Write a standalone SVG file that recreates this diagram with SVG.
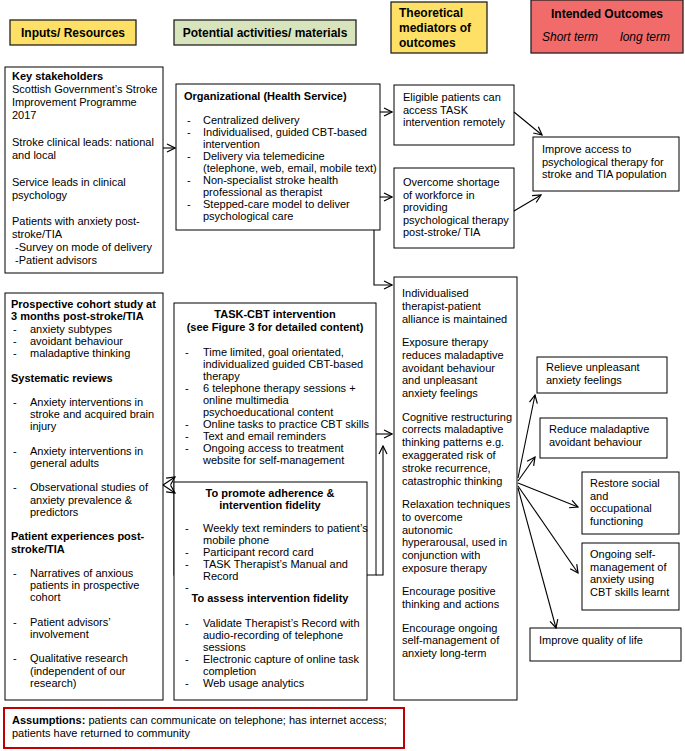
<svg xmlns="http://www.w3.org/2000/svg" width="685" height="751" viewBox="0 0 685 751">
<defs>
<marker id="ah" markerWidth="10" markerHeight="10" refX="9" refY="5" orient="auto" markerUnits="userSpaceOnUse"><path d="M1,1 L9,5 L1,9" fill="none" stroke="#000" stroke-width="1.2"/></marker>
</defs>
<style>
text{font-family:"Liberation Sans",Arial,sans-serif;font-size:11px;fill:#000}
.b{font-weight:bold}
.h{font-weight:bold;font-size:12px}
.i{font-style:italic;font-size:12px}
.c{text-anchor:middle}
.box{fill:#fff;stroke:#000;stroke-width:1}
.hy{fill:#FFE066;stroke:#222;stroke-width:1.3}
.hg{fill:#D8E4BC;stroke:#222;stroke-width:1.3}
.hr{fill:#F26B6B;stroke:#222;stroke-width:1.3}
.con path{fill:none;stroke:#000;stroke-width:1.1}
</style>
<rect width="685" height="751" fill="#fff"/>

<g id="hdr-inputs"><rect class="hy" x="10" y="20" width="126" height="25"/><text class="h c" x="73" y="37">Inputs/ Resources</text></g>
<g id="hdr-activities"><rect class="hg" x="174" y="20" width="182" height="25"/><text class="h c" x="265" y="37">Potential activities/ materials</text></g>
<g id="hdr-mediators"><rect class="hy" x="391" y="2" width="96" height="51"/><text class="h" x="399"><tspan x="399" y="17">Theoretical</tspan><tspan x="399" y="32">mediators of</tspan><tspan x="399" y="47">outcomes</tspan></text></g>
<g id="hdr-outcomes"><rect class="hr" x="531" y="0" width="152" height="53"/><text class="h c" x="607" y="18">Intended Outcomes</text><text class="i" x="542" y="41">Short term</text><text class="i" x="620" y="41">long term</text></g>

<g id="stakeholders"><rect class="box" x="5" y="67" width="158" height="206"/>
<text x="12"><tspan class="b" x="12" y="80">Key stakeholders</tspan><tspan x="12" y="93">Scottish Government’s Stroke</tspan><tspan x="12" y="106">Improvement Programme</tspan><tspan x="12" y="119">2017</tspan><tspan x="12" y="146">Stroke clinical leads: national</tspan><tspan x="12" y="159">and local</tspan><tspan x="12" y="186">Service leads in clinical</tspan><tspan x="12" y="199">psychology</tspan><tspan x="12" y="225">Patients with anxiety post-</tspan><tspan x="12" y="238">stroke/TIA</tspan><tspan x="12" y="251"> -Survey on mode of delivery</tspan><tspan x="12" y="264"> -Patient advisors</tspan></text></g>

<g id="organizational"><rect class="box" x="176" y="84" width="204" height="146"/>
<text class="b" x="184" y="100">Organizational (Health Service)</text>
<text x="187"><tspan x="187" y="124">-</tspan><tspan x="187" y="136">-</tspan><tspan x="187" y="160">-</tspan><tspan x="187" y="184">-</tspan><tspan x="187" y="208">-</tspan></text>
<text x="203"><tspan x="203" y="124">Centralized delivery</tspan><tspan x="203" y="136">Individualised, guided CBT-based</tspan><tspan x="203" y="148">intervention</tspan><tspan x="203" y="160">Delivery via telemedicine</tspan><tspan x="203" y="172">(telephone, web, email, mobile text)</tspan><tspan x="203" y="184">Non-specialist stroke health</tspan><tspan x="203" y="196">professional as therapist</tspan><tspan x="203" y="208">Stepped-care model to deliver</tspan><tspan x="203" y="220">psychological care</tspan></text></g>

<g id="eligible"><rect class="box" x="394" y="85" width="120" height="60"/>
<text x="403"><tspan x="403" y="101">Eligible patients can</tspan><tspan x="403" y="113.5">access TASK</tspan><tspan x="403" y="126">intervention remotely</tspan></text></g>

<g id="overcome"><rect class="box" x="394" y="168" width="120" height="80"/>
<text x="403"><tspan x="403" y="186">Overcome shortage</tspan><tspan x="403" y="198.5">of workforce in</tspan><tspan x="403" y="211">providing</tspan><tspan x="403" y="223.5">psychological therapy</tspan><tspan x="403" y="236">post-stroke/ TIA</tspan></text></g>

<g id="improve-access"><rect class="box" x="533" y="137" width="146" height="54"/>
<text x="542"><tspan x="542" y="153">Improve access to</tspan><tspan x="542" y="165.5">psychological therapy for</tspan><tspan x="542" y="178">stroke and TIA population</tspan></text></g>

<g id="evidence"><rect class="box" x="5" y="293" width="158" height="407"/>
<text class="b" x="11"><tspan x="11" y="308">Prospective cohort study at</tspan><tspan x="11" y="320.3">3 months post-stroke/TIA</tspan><tspan x="11" y="381.5">Systematic reviews</tspan><tspan x="11" y="540.2">Patient experiences post-</tspan><tspan x="11" y="552.5">stroke/TIA</tspan></text>
<text x="13"><tspan x="13" y="332.6">-</tspan><tspan x="13" y="344.9">-</tspan><tspan x="13" y="357.2">-</tspan><tspan x="13" y="405.8">-</tspan><tspan x="13" y="454.7">-</tspan><tspan x="13" y="491.3">-</tspan><tspan x="13" y="576.8">-</tspan><tspan x="13" y="625.7">-</tspan><tspan x="13" y="662.3">-</tspan></text>
<text x="30"><tspan x="30" y="332.6">anxiety subtypes</tspan><tspan x="30" y="344.9">avoidant behaviour</tspan><tspan x="30" y="357.2">maladaptive thinking</tspan><tspan x="30" y="405.8">Anxiety interventions in</tspan><tspan x="30" y="418.1">stroke and acquired brain</tspan><tspan x="30" y="430.4">injury</tspan><tspan x="30" y="454.7">Anxiety interventions in</tspan><tspan x="30" y="467">general adults</tspan><tspan x="30" y="491.3">Observational studies of</tspan><tspan x="30" y="503.6">anxiety prevalence &amp;</tspan><tspan x="30" y="515.9">predictors</tspan><tspan x="30" y="576.8">Narratives of anxious</tspan><tspan x="30" y="589.1">patients in prospective</tspan><tspan x="30" y="601.4">cohort</tspan><tspan x="30" y="625.7">Patient advisors’</tspan><tspan x="30" y="638">involvement</tspan><tspan x="30" y="662.3">Qualitative research</tspan><tspan x="30" y="674.6">(independent of our</tspan><tspan x="30" y="686.9">research)</tspan></text></g>

<g id="task-cbt"><rect class="box" x="174" y="303" width="202" height="272"/>
<text class="b c" x="275"><tspan x="275" y="318">TASK-CBT intervention</tspan><tspan x="275" y="331">(see Figure 3 for detailed content)</tspan></text>
<text x="185"><tspan x="185" y="356">-</tspan><tspan x="185" y="392">-</tspan><tspan x="185" y="428">-</tspan><tspan x="185" y="440">-</tspan><tspan x="185" y="452">-</tspan></text>
<text x="203"><tspan x="203" y="356">Time limited, goal orientated,</tspan><tspan x="203" y="368">individualized guided CBT-based</tspan><tspan x="203" y="380">therapy</tspan><tspan x="203" y="392">6 telephone therapy sessions +</tspan><tspan x="203" y="404">online multimedia</tspan><tspan x="203" y="416">psychoeducational content</tspan><tspan x="203" y="428">Online tasks to practice CBT skills</tspan><tspan x="203" y="440">Text and email reminders</tspan><tspan x="203" y="452">Ongoing access to treatment</tspan><tspan x="203" y="464">website for self-management</tspan></text></g>

<g id="fidelity"><rect class="box" x="174" y="482" width="193" height="218"/>
<text class="b c" x="270"><tspan x="270" y="497">To promote adherence &amp;</tspan><tspan x="270" y="509">intervention fidelity</tspan><tspan x="270" y="602">To assess intervention fidelity</tspan></text>
<text x="185"><tspan x="185" y="532">-</tspan><tspan x="185" y="556">-</tspan><tspan x="185" y="568">-</tspan><tspan x="185" y="591">-</tspan><tspan x="185" y="627">-</tspan><tspan x="185" y="663">-</tspan><tspan x="185" y="687">-</tspan></text>
<text x="203"><tspan x="203" y="532">Weekly text reminders to patient’s</tspan><tspan x="203" y="544">mobile phone</tspan><tspan x="203" y="556">Participant record card</tspan><tspan x="203" y="568">TASK Therapist’s Manual and</tspan><tspan x="203" y="580">Record</tspan><tspan x="203" y="627">Validate Therapist’s Record with</tspan><tspan x="203" y="639">audio-recording of telephone</tspan><tspan x="203" y="651">sessions</tspan><tspan x="203" y="663">Electronic capture of online task</tspan><tspan x="203" y="675">completion</tspan><tspan x="203" y="687">Web usage analytics</tspan></text></g>

<g id="mechanisms"><rect class="box" x="394" y="277" width="123" height="423"/>
<text x="402"><tspan x="402" y="297">Individualised</tspan><tspan x="402" y="309.8">therapist-patient</tspan><tspan x="402" y="322.6">alliance is maintained</tspan><tspan x="402" y="346">Exposure therapy</tspan><tspan x="402" y="358.8">reduces maladaptive</tspan><tspan x="402" y="371.6">avoidant behaviour</tspan><tspan x="402" y="384.4">and unpleasant</tspan><tspan x="402" y="397.2">anxiety feelings</tspan><tspan x="402" y="420.6">Cognitive restructuring</tspan><tspan x="402" y="433.4">corrects maladaptive</tspan><tspan x="402" y="446.2">thinking patterns e.g.</tspan><tspan x="402" y="459">exaggerated risk of</tspan><tspan x="402" y="471.8">stroke recurrence,</tspan><tspan x="402" y="484.6">catastrophic thinking</tspan><tspan x="402" y="508">Relaxation techniques</tspan><tspan x="402" y="520.8">to overcome</tspan><tspan x="402" y="533.6">autonomic</tspan><tspan x="402" y="546.4">hyperarousal, used in</tspan><tspan x="402" y="559.2">conjunction with</tspan><tspan x="402" y="572">exposure therapy</tspan><tspan x="402" y="595.4">Encourage positive</tspan><tspan x="402" y="608.2">thinking and actions</tspan><tspan x="402" y="631.6">Encourage ongoing</tspan><tspan x="402" y="644.4">self-management of</tspan><tspan x="402" y="657.2">anxiety long-term</tspan></text></g>

<g id="relieve"><rect class="box" x="537" y="357" width="130" height="36"/>
<text x="546"><tspan x="546" y="371">Relieve unpleasant</tspan><tspan x="546" y="383.5">anxiety feelings</tspan></text></g>
<g id="reduce"><rect class="box" x="540" y="418" width="127" height="40"/>
<text x="549"><tspan x="549" y="433">Reduce maladaptive</tspan><tspan x="549" y="445.5">avoidant behaviour</tspan></text></g>
<g id="restore"><rect class="box" x="582" y="472" width="97" height="62"/>
<text x="590"><tspan x="590" y="487">Restore social</tspan><tspan x="590" y="499.5">and</tspan><tspan x="590" y="512">occupational</tspan><tspan x="590" y="524.5">functioning</tspan></text></g>
<g id="ongoing"><rect class="box" x="582" y="543" width="97" height="67"/>
<text x="590"><tspan x="590" y="558">Ongoing self-</tspan><tspan x="590" y="570.5">management of</tspan><tspan x="590" y="583">anxiety using</tspan><tspan x="590" y="595.5">CBT skills learnt</tspan></text></g>
<g id="quality"><rect class="box" x="530" y="628" width="151" height="33"/>
<text x="539" y="644">Improve quality of life</text></g>

<g id="assumptions"><rect x="4" y="708" width="400" height="40" fill="#fff" stroke="#C00000" stroke-width="2"/>
<text x="12" y="724"><tspan class="b">Assumptions:</tspan> patients can communicate on telephone; has internet access;</text>
<text x="12" y="737">patients have returned to community</text></g>

<g id="connectors" class="con">
<path d="M163,148 H175" marker-end="url(#ah)"/>
<path d="M380,112 H392" marker-end="url(#ah)"/>
<path d="M380,197 H392" marker-end="url(#ah)"/>
<path d="M374,230 V285 H392" marker-end="url(#ah)"/>
<path d="M514,112 L542,135" marker-end="url(#ah)"/>
<path d="M514,211 L541,195" marker-end="url(#ah)"/>
<path d="M376,434 H392" marker-end="url(#ah)"/>
<path d="M376,575 H383 V446" marker-end="url(#ah)"/>
<path d="M163,485 L175,477" marker-end="url(#ah)"/>
<path d="M163,485 L175,493" marker-end="url(#ah)"/>
<path d="M518,478 L535,395" marker-end="url(#ah)"/>
<path d="M518,481 L535,457" marker-end="url(#ah)"/>
<path d="M518,483 L578,507" marker-end="url(#ah)"/>
<path d="M518,486 L578,573" marker-end="url(#ah)"/>
<path d="M518,488 L556,628" marker-end="url(#ah)"/>
</g>
</svg>
